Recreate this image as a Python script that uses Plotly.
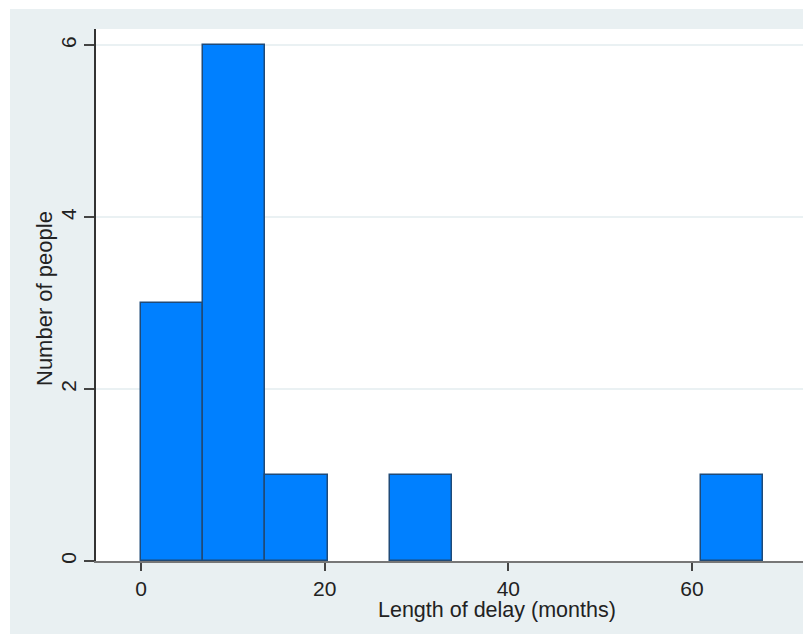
import plotly.graph_objects as go

# Data
bin_start = 0.0
bin_width = 6.77
counts = [3, 6, 1, 0, 1, 0, 0, 0, 0, 1]
x_ticks = [0, 20, 40, 60]
y_ticks = [0, 2, 4, 6]
x_title = "Length of delay (months)"
y_title = "Number of people"

centers = [bin_start + bin_width * (i + 0.5) for i in range(len(counts))]
widths = [bin_width] * len(counts)
outline_w = [1.5 if c > 0 else 0 for c in counts]

# Figure fills the whole page (body margin removed); coordinates are page pixels
W, H = 803, 634
ml, mt = 96, 29
plot_bottom = 561
mb = H - plot_bottom
mr = 0
px_per_unit = (692 - 141) / 60.0
x_range = [(96 - 141) / px_per_unit, (W - 141) / px_per_unit]
pw, ph = W - ml - mr, plot_bottom - mt

fig = go.Figure()
fig.add_trace(go.Bar(
    x=centers, y=counts, width=widths,
    marker=dict(color="#0080FF", line=dict(color="#1F4A78", width=outline_w)),
    showlegend=False, hoverinfo="skip"))

font = "Liberation Sans, Arial, sans-serif"
bg = "#E9F0F2"

def px_x(p):
    return (p - ml) / pw

def px_y(p):
    return (plot_bottom - p) / ph

fig.update_layout(
    width=W, height=H,
    margin=dict(l=ml, r=mr, t=mt, b=mb, pad=0),
    paper_bgcolor=bg, plot_bgcolor="white",
    bargap=0,
    font=dict(family=font, size=21, color="#222"),
    xaxis=dict(range=x_range, tickvals=x_ticks, ticks="outside", ticklen=8,
               tickwidth=1.5, tickcolor="#444", showgrid=False, zeroline=False,
               showline=True, linecolor="#777", linewidth=2,
               tickfont=dict(size=21, color="#222")),
    yaxis=dict(range=[0, 6.19], tickvals=y_ticks, ticks="outside", ticklen=10,
               tickwidth=1.5, tickcolor="#444", showgrid=True, gridcolor="#EAF1F3",
               gridwidth=1.5, zeroline=False, showline=True, linecolor="#333",
               linewidth=1.5, tickangle=-90, tickfont=dict(size=21, color="#222")),
    shapes=[
        dict(type="rect", xref="paper", yref="paper", x0=px_x(0), x1=px_x(W),
             y0=px_y(9), y1=px_y(0), fillcolor="white", line=dict(width=0), layer="below"),
        dict(type="rect", xref="paper", yref="paper", x0=px_x(0), x1=px_x(10),
             y0=px_y(H), y1=px_y(0), fillcolor="white", line=dict(width=0), layer="below"),
    ],
    annotations=[
        dict(text=x_title, xref="paper", yref="paper", x=px_x(497), y=px_y(610),
             showarrow=False, xanchor="center", yanchor="middle",
             font=dict(size=21.5, color="#222")),
        dict(text=y_title, xref="paper", yref="paper", x=px_x(44), y=px_y(299),
             showarrow=False, xanchor="center", yanchor="middle", textangle=-90,
             font=dict(size=22, color="#222")),
    ],
)

fig.write_html(
    "out.html",
    config={"displayModeBar": False},
    post_script="document.body.style.margin='0';"
                "document.documentElement.style.overflow='hidden';"
                "document.body.style.overflow='hidden';",
)
